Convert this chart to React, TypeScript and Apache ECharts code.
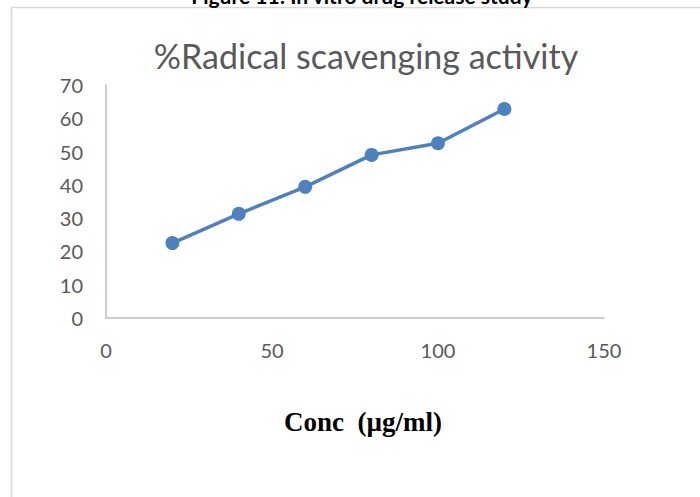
import React, { useEffect, useRef } from "react";
import * as echarts from "echarts";

const concentrations = [20, 40, 60, 80, 100, 120];
const scavenging = [22.5, 31.3, 39.4, 49.0, 52.5, 62.8];
const xTicks = [0, 50, 100, 150];
const yTicks = [0, 10, 20, 30, 40, 50, 60, 70];
const chartTitle = "%Radical scavenging activity";
const xAxisTitle = "Conc  (µg/ml)";
const captionText = "Figure 11: In vitro drug release study";

export default function App() {
  const ref = useRef<HTMLDivElement>(null);
  useEffect(() => {
    if (!ref.current) return;
    const chart = echarts.init(ref.current, undefined, { renderer: "svg" });
    const data = concentrations.map((c, i) => [c, scavenging[i]]);
    chart.setOption({
      animation: false,
      backgroundColor: "#ffffff",
      title: {
        text: chartTitle,
        left: 361,
        textAlign: "center",
        top: 33,
        textStyle: {
          fontFamily: "Lato, 'Open Sans', sans-serif",
          fontWeight: "normal",
          fontSize: 34,
          color: "#595959",
        },
      },
      grid: { left: 106, right: 96, top: 85, bottom: 179 },
      xAxis: {
        type: "value",
        min: xTicks[0],
        max: xTicks[xTicks.length - 1],
        interval: 50,
        axisLine: { show: true, lineStyle: { color: "#bfbfbf", width: 1.5 } },
        axisTick: { show: false },
        splitLine: { show: false },
        axisLabel: {
          margin: 22,
          fontFamily: "Lato, 'Open Sans', sans-serif",
          fontSize: 20,
          color: "#595959",
        },
        name: xAxisTitle,
        nameLocation: "middle",
        nameGap: 90,
        nameTextStyle: {
          fontFamily: "'Liberation Serif', 'Times New Roman', serif",
          fontWeight: "bold",
          fontSize: 27,
          color: "#000000",
          padding: [0, 0, 0, 16],
        },
      },
      yAxis: {
        type: "value",
        min: yTicks[0],
        max: yTicks[yTicks.length - 1],
        interval: 10,
        axisLine: { show: true, lineStyle: { color: "#bfbfbf", width: 1.5 } },
        axisTick: { show: false },
        splitLine: { show: false },
        axisLabel: {
          margin: 23,
          fontFamily: "Lato, 'Open Sans', sans-serif",
          fontSize: 20,
          color: "#595959",
        },
      },
      series: [
        {
          type: "line",
          data,
          symbol: "circle",
          symbolSize: 14,
          lineStyle: { color: "#4f81bd", width: 3.5 },
          itemStyle: { color: "#4f81bd" },
        },
      ],
      graphic: [
        {
          type: "line",
          shape: { x1: 11.5, y1: 7, x2: 11.5, y2: 497 },
          style: { stroke: "#d9d9d9", lineWidth: 1.5 },
        },
        {
          type: "line",
          shape: { x1: 11, y1: 7.5, x2: 700, y2: 7.5 },
          style: { stroke: "#d9d9d9", lineWidth: 1.5 },
        },
        {
          type: "text",
          x: 362,
          y: 6,
          style: {
            text: captionText,
            align: "center",
            verticalAlign: "bottom",
            fontFamily: "Lato, 'Open Sans', sans-serif",
            fontWeight: "bold",
            fontSize: 21,
            fill: "#000000",
          },
        },
      ],
    });
    return () => chart.dispose();
  }, []);
  return (
    <div
      ref={ref}
      style={{ position: "fixed", left: 0, top: 0, width: 700, height: 497 }}
    />
  );
}
